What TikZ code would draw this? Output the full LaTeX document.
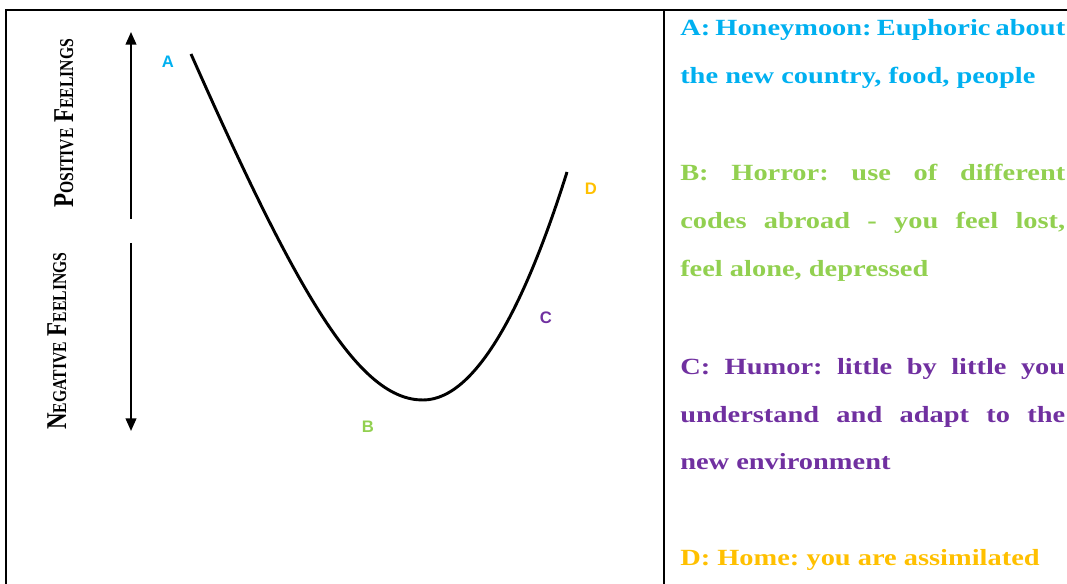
\documentclass[tikz,border=0pt]{standalone}
\usepackage{fontspec}
\setmainfont{Liberation Serif}
\newfontfamily\lblfont{Liberation Sans}
\usetikzlibrary{arrows.meta}
\definecolor{cA}{HTML}{00B0F0}
\definecolor{cB}{HTML}{92D050}
\definecolor{cC}{HTML}{7030A0}
\definecolor{cD}{HTML}{FFC000}
\newcommand{\sxf}{1.225}
\newcommand{\jline}[1]{\scalebox{\sxf}[1]{\makebox[235.7pt][s]{#1}}}
\newcommand{\nline}[1]{\scalebox{\sxf}[1]{#1}}
\newcommand{\fsc}[1]{{\fontsize{14.7}{16}\selectfont #1}}
\frenchspacing
\begin{document}
\frenchspacing
\begin{tikzpicture}[x=0.75pt,y=-0.75pt,
  rline/.style={anchor=base west, inner sep=0pt, font=\frenchspacing\bfseries\fontsize{17.4}{20}\selectfont},
  letter/.style={anchor=center, inner sep=0pt, font=\lblfont\bfseries\fontsize{12.5}{14}\selectfont},
  feel/.style={rotate=90, anchor=base west, inner sep=0pt, font=\bfseries\fontsize{21.5}{24}\selectfont},
  border/.style={line width=1.5pt},
  axis/.style={line width=1.5pt, -{Triangle[width=8pt,length=9.5pt]}},
  curvestyle/.style={line width=2.2pt}]
\useasboundingbox (0,0) rectangle (1067,584);
% table borders
\coordinate (tl) at (6,10);
\coordinate (tr) at (1067,10);
\coordinate (bl) at (6,584);
\coordinate (dt) at (664,10);
\coordinate (db) at (664,584);
\draw[border] (tr) -- (tl) -- (bl);
\draw[border] (dt) -- (db);
% axis arrows
\coordinate (up0) at (131,219);
\coordinate (up1) at (131,32);
\coordinate (dn0) at (131,243);
\coordinate (dn1) at (131,431);
\draw[axis] (up0) -- (up1);
\draw[axis] (dn0) -- (dn1);
% rotated labels
\node[feel] (pos) at (73,208) {\scalebox{0.8}[1]{P\fsc{OSITIVE} F\fsc{EELINGS}}};
\node[feel] (neg) at (66,430) {\scalebox{0.8}[1]{N\fsc{EGATIVE} F\fsc{EELINGS}}};
% curve
\coordinate (pA) at (191,54);
\coordinate (pB) at (423,400);
\coordinate (pD) at (567,172);
\draw[curvestyle] (pA) .. controls (300,300) and (360,400) .. (pB) .. controls (480,400) and (530,290) .. (pD);
% letters
\node[letter, text=cA] (lA) at (168,62) {A};
\node[letter, text=cB] (lB) at (368,427) {B};
\node[letter, text=cC] (lC) at (546,318) {C};
\node[letter, text=cD] (lD) at (591,189) {D};
% right column text
\node[rline, text=cA] (a1) at (680,36) {\jline{A: Honeymoon: Euphoric about}};
\node[rline, text=cA] (a2) at (680,84) {\nline{the new country, food, people}};
\node[rline, text=cB] (b1) at (680,181) {\jline{B: Horror: use of different}};
\node[rline, text=cB] (b2) at (680,229) {\jline{codes abroad - you feel lost,}};
\node[rline, text=cB] (b3) at (680,277) {\nline{feel alone, depressed}};
\node[rline, text=cC] (c1) at (680,374) {\jline{C: Humor: little by little you}};
\node[rline, text=cC] (c2) at (680,422) {\jline{understand and adapt to the}};
\node[rline, text=cC] (c3) at (680,469) {\nline{new environment}};
\node[rline, text=cD] (d1) at (680,565) {\nline{D: Home: you are assimilated}};
\end{tikzpicture}
\end{document}
